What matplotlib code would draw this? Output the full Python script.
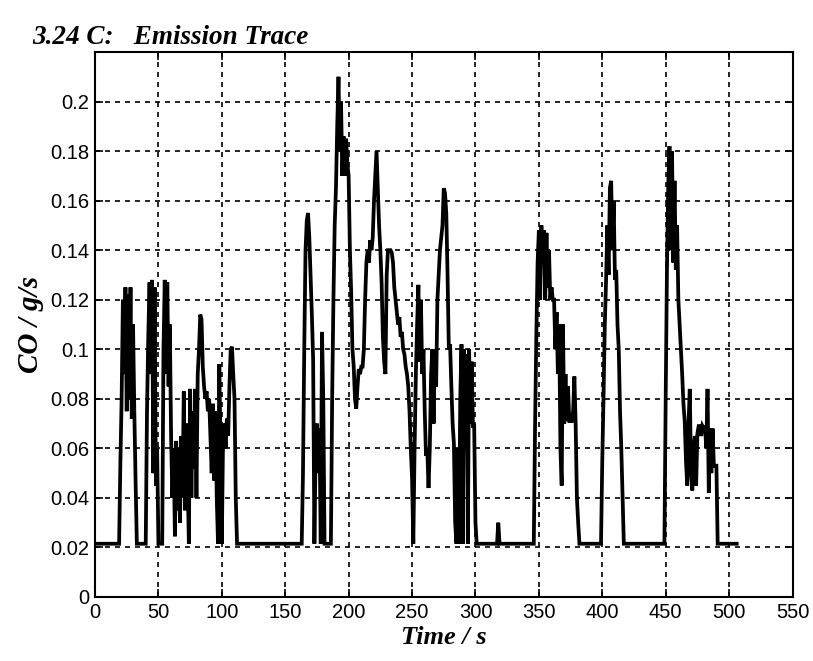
import matplotlib
matplotlib.use("Agg")
import matplotlib.pyplot as plt

# ---- data (time in s, CO in g/s) ----
time_s = [0, 19, 20, 21, 22, 23, 24, 25, 26, 27, 28, 29, 30, 31, 32, 33, 40,
          41, 42, 43, 44, 45, 46, 47, 48, 49, 50, 53, 54, 55, 56, 57, 58, 59,
          60, 61, 62, 63, 64, 65, 66, 67, 68, 69, 70, 71, 72, 73, 74, 75, 76,
          77, 78, 79, 80, 81, 82, 83, 84, 85, 86, 87, 88, 89, 90, 91, 92, 93,
          94, 95, 96, 97, 98, 99, 100, 101, 102, 103, 104, 105, 106, 107, 108,
          109, 110, 111, 112, 163,
          164, 165, 166, 167, 168, 169, 170, 171, 172, 173, 174, 175, 176, 177,
          178, 179, 180, 181, 186, 187, 188, 189, 190, 191, 192, 193, 194, 195,
          196, 197, 198, 199, 200, 201, 202, 203, 204, 205, 206, 207, 208, 209,
          210, 211, 212, 213, 214, 215, 216, 217, 218, 219, 220, 221, 222, 223,
          224, 225, 226, 227, 228, 229, 230, 231, 232, 233, 234, 235, 236, 237,
          238, 239, 240, 241, 242, 243, 244, 245, 246, 247, 248, 249, 250, 251,
          252, 253, 254, 255, 256, 257, 258, 259, 260, 261, 262, 263, 264, 265,
          266, 267, 268, 269, 270, 271, 272, 273, 274, 275, 276, 277, 278, 279,
          280, 281, 282, 283, 284, 285, 286, 287, 288, 289, 290, 291, 292, 293,
          294, 295, 296, 297, 298, 299, 300, 301, 317, 318, 319, 346,
          347, 348, 349, 350, 351, 352, 353, 354, 355, 356, 357, 358, 359, 360,
          361, 362, 363, 364, 365, 366, 367, 368, 369, 370, 371, 372, 373, 374,
          375, 376, 377, 378, 379, 380, 381, 382, 399,
          400, 401, 402, 403, 404, 405, 406, 407, 408, 409, 410, 411, 412, 413,
          414, 415, 416, 417, 449,
          450, 451, 452, 453, 454, 455, 456, 457, 458, 459, 460, 461, 462, 463,
          464, 465, 466, 467, 468, 469, 470, 471, 472, 473, 474, 475, 476, 477,
          478, 479, 480, 481, 482, 483, 484, 485, 486, 487, 488, 489, 490, 491,
          506]

co_gs = [0.0215, 0.0215, 0.054, 0.08, 0.12, 0.09, 0.125, 0.075, 0.122, 0.08,
         0.125, 0.072, 0.11, 0.075, 0.047, 0.0215, 0.0215,
         0.075, 0.105, 0.127, 0.09, 0.128, 0.05, 0.125, 0.045, 0.06, 0.0215,
         0.0215, 0.1, 0.128, 0.09, 0.127, 0.085, 0.11,
         0.065, 0.04, 0.06, 0.0245, 0.063, 0.035, 0.06, 0.03, 0.065, 0.04,
         0.083, 0.035, 0.07, 0.05, 0.0215, 0.084, 0.04,
         0.075, 0.052, 0.084, 0.04, 0.09, 0.1, 0.114, 0.112, 0.093, 0.085,
         0.08, 0.083, 0.075, 0.08, 0.065, 0.05, 0.078,
         0.047, 0.075, 0.04, 0.0215, 0.094, 0.06, 0.0215, 0.065, 0.07, 0.06,
         0.072, 0.065, 0.085, 0.1, 0.101,
         0.09, 0.08, 0.04, 0.0215, 0.0215,
         0.05, 0.1, 0.14, 0.152, 0.155, 0.145, 0.13, 0.114, 0.096, 0.0215,
         0.06, 0.07, 0.05, 0.068,
         0.0215, 0.107, 0.08, 0.0215, 0.0215, 0.08, 0.12, 0.15, 0.165, 0.19,
         0.21, 0.18, 0.2, 0.17,
         0.186, 0.17, 0.185, 0.175, 0.17, 0.14, 0.123, 0.1, 0.093, 0.08, 0.076,
         0.085, 0.092, 0.09,
         0.093, 0.093, 0.1, 0.12, 0.135, 0.14, 0.135, 0.144, 0.14, 0.145, 0.16,
         0.17, 0.18, 0.165,
         0.15, 0.14, 0.127, 0.105, 0.095, 0.09, 0.13, 0.14, 0.14, 0.14, 0.139,
         0.135, 0.125, 0.12,
         0.115, 0.11, 0.113, 0.105, 0.107, 0.1, 0.098, 0.093, 0.09, 0.085,
         0.075, 0.06, 0.048, 0.0215,
         0.06, 0.09, 0.11, 0.126, 0.095, 0.12, 0.09, 0.1, 0.075, 0.057, 0.06,
         0.044, 0.06, 0.09,
         0.1, 0.07, 0.1, 0.085, 0.12, 0.13, 0.14, 0.145, 0.15, 0.165, 0.163,
         0.155, 0.13, 0.1,
         0.102, 0.085, 0.07, 0.062, 0.03, 0.0215, 0.06, 0.0215, 0.08, 0.102,
         0.0215, 0.1, 0.06, 0.098,
         0.0215, 0.1, 0.07, 0.095, 0.069, 0.069, 0.03, 0.0215, 0.0215, 0.03,
         0.0215, 0.0215,
         0.069, 0.105, 0.135, 0.148, 0.12, 0.15, 0.135, 0.148, 0.12, 0.147,
         0.125, 0.14, 0.12, 0.125,
         0.12, 0.12, 0.1, 0.115, 0.09, 0.11, 0.06, 0.045, 0.11, 0.07, 0.09,
         0.071, 0.085, 0.071,
         0.071, 0.071, 0.075, 0.089, 0.07, 0.04, 0.03, 0.0215, 0.0215,
         0.055, 0.081, 0.11, 0.128, 0.15, 0.13, 0.165, 0.168, 0.14, 0.16,
         0.128, 0.132, 0.11, 0.1,
         0.075, 0.06, 0.04, 0.0215, 0.0215,
         0.08, 0.132, 0.166, 0.182, 0.14, 0.18, 0.135, 0.168, 0.132, 0.15,
         0.12, 0.11, 0.1, 0.09,
         0.078, 0.071, 0.055, 0.045, 0.07, 0.084, 0.05, 0.043, 0.06, 0.065,
         0.045, 0.066, 0.069, 0.069,
         0.065, 0.069, 0.068, 0.069, 0.06, 0.084, 0.042, 0.068, 0.05, 0.068,
         0.053, 0.053, 0.053, 0.0215,
         0.0215]

x_ticks = [0, 50, 100, 150, 200, 250, 300, 350, 400, 450, 500, 550]
y_ticks = [0, 0.02, 0.04, 0.06, 0.08, 0.1, 0.12, 0.14, 0.16, 0.18, 0.2]
y_tick_labels = ["0", "0.02", "0.04", "0.06", "0.08", "0.1", "0.12", "0.14",
                 "0.16", "0.18", "0.2"]

title_text = "3.24 C:   Emission Trace"
x_label = "Time / s"
y_label = "CO / g/s"

# ---- figure ----
W, H = 813, 661
AX_L, AX_R, AX_T, AX_B = 95, 792.5, 52, 597
fig = plt.figure(figsize=(W / 100, H / 100), dpi=100)
ax = fig.add_axes([AX_L / W, 1 - AX_B / H, (AX_R - AX_L) / W, (AX_B - AX_T) / H])

ax.plot(time_s, co_gs, color="black", lw=2.7, solid_joinstyle="miter")

ax.set_xlim(0, 550)
ax.set_ylim(0, 0.22)
ax.set_xticks(x_ticks)
ax.set_xticklabels([str(v) for v in x_ticks])
ax.set_yticks(y_ticks)
ax.set_yticklabels(y_tick_labels)

tick_font = ["Liberation Sans Narrow", "DejaVu Sans Condensed", "Liberation Sans"]
for lab in ax.get_xticklabels() + ax.get_yticklabels():
    lab.set_family(tick_font)
    lab.set_fontsize(14.5)

ax.grid(True, color="black", linestyle=(0, (3, 3)), linewidth=1.2)
ax.tick_params(direction="in", length=6, width=1.2, top=True, right=True,
               pad=4)
for s in ax.spines.values():
    s.set_linewidth(1.5)

serif = ["Liberation Serif", "DejaVu Serif"]
ax.set_xlabel(x_label, family=serif, fontweight="bold", fontstyle="italic",
              fontsize=19)
ax.set_ylabel(y_label, family=serif, fontweight="bold", fontstyle="italic",
              fontsize=21)
ax.xaxis.set_label_coords(0.5, (AX_B - 626) / (AX_B - AX_T))
ax.yaxis.set_label_coords((44 - AX_L) / (AX_R - AX_L), 0.5)
fig.text(32 / W, 1 - 44 / H, title_text, family=serif, fontweight="bold",
         fontstyle="italic", fontsize=19.5, ha="left", va="baseline")

fig.savefig("out.png", dpi=100)
